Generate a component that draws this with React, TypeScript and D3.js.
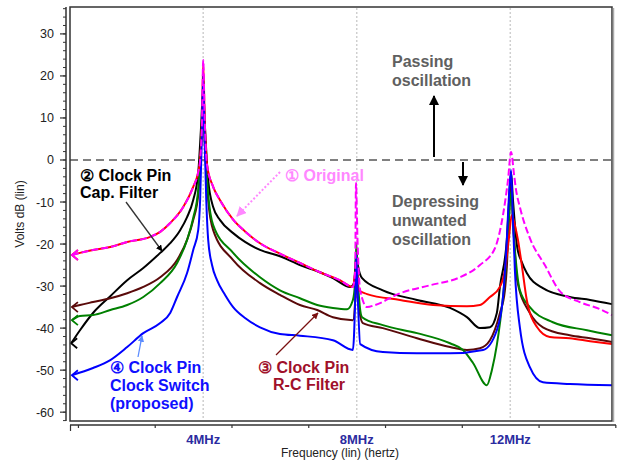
import React from "react";
import * as d3 from "d3";

type Pt = [number, number];

// frequency in MHz, level in dB
const original: Pt[] = [
  [0.58, -22.6], [0.79, -22.1], [1.13, -21.4], [1.58, -20.7], [2.02, -19.5], [2.62, -18.3],
  [2.88, -17.1], [3.14, -15.0], [3.48, -11.2], [3.74, -6.4], [3.87, -2.9], [3.92, 0], [3.97, 9.5],
  [4.0, 23.8], [4.04, 9.5], [4.1, -1.2], [4.26, -6.4], [4.44, -9.6], [4.78, -14.2], [5.09, -17],
  [5.48, -19.8], [6.0, -22.3], [6.52, -24.5], [7.04, -26.7], [7.56, -28.6], [7.9, -30.2],
  [7.96, -26.2], [7.98, -5.5], [8.02, -19], [8.09, -31], [8.27, -35], [8.48, -34.5], [9.13, -31.7],
  [9.91, -29.8], [10.69, -27.9], [11.21, -25], [11.6, -21], [11.81, -13.1], [11.94, -4.8],
  [12.02, 1.9], [12.1, -3.6], [12.15, -7.1], [12.25, -11.2], [12.51, -18.6], [12.9, -25],
  [13.29, -31.2], [13.81, -33.8], [14.34, -35.5], [14.65, -36.9],
];

const rcFilter: Pt[] = [
  [0.58, -22.6], [0.79, -22.1], [1.13, -21.4], [1.58, -20.7], [2.02, -19.5], [2.62, -18.3],
  [2.88, -17.1], [3.14, -15.0], [3.48, -11.2], [3.74, -6.4], [3.87, -2.9], [3.92, 0], [3.97, 9.5],
  [4.0, 23], [4.04, 9.5], [4.1, -1.2], [4.26, -6.4], [4.44, -9.6], [4.78, -14.2], [5.09, -17],
  [5.48, -19.8], [6.0, -22.3], [6.52, -24.5], [7.04, -26.7], [7.56, -28.6], [7.9, -30.2],
  [7.96, -27], [8.0, -25.5], [8.05, -31], [8.27, -31.9], [9.13, -33.3], [9.99, -34.5],
  [10.87, -34.8], [11.21, -34.5], [11.47, -32.6], [11.73, -30.2], [11.86, -26.2], [11.96, -19],
  [12.04, -13.1], [12.12, -15.5], [12.2, -19], [12.3, -25], [12.43, -33.3], [12.7, -39.8],
  [13.03, -42.1], [13.55, -42.4], [14.08, -43.1], [14.65, -43.8],
];

const capFilter: Pt[] = [
  [0.56, -43.6], [0.79, -40.5], [1.13, -36.4], [1.58, -32.4], [2.02, -28.6], [2.44, -25.7],
  [2.88, -22.1], [3.14, -19.8], [3.4, -16.7], [3.58, -13.6], [3.74, -9.5], [3.87, -3.1],
  [3.94, 7.1], [4.0, 16.7], [4.05, 7.1], [4.13, -4.8], [4.26, -11.2], [4.44, -14.3], [4.78, -17.4],
  [5.09, -19.5], [5.48, -21.4], [6.0, -22.9], [6.52, -25], [7.04, -26.7], [7.38, -28.1],
  [7.83, -30.2], [7.93, -29.3], [7.99, -22.1], [8.03, -25], [8.14, -28.1], [8.68, -31],
  [9.57, -33.3], [10.43, -35.2], [10.87, -37.4], [11.21, -40], [11.47, -39.8], [11.65, -36.4],
  [11.73, -30.2], [11.91, -19], [11.96, -11.2], [12.02, -2.9], [12.07, -9.5], [12.18, -20.7],
  [12.3, -24.3], [12.43, -26.9], [12.85, -30.5], [13.55, -32.6], [14.08, -33.3], [14.65, -34.3],
];

const rcBrown: Pt[] = [
  [0.58, -35], [0.79, -34.5], [1.13, -33.8], [1.58, -32.9], [2.02, -31.7], [2.44, -30.2],
  [2.88, -27.9], [3.32, -23.8], [3.58, -19], [3.74, -14.3], [3.87, -8.3], [3.94, 2.4], [4.0, 13.1],
  [4.05, 2.4], [4.13, -9.5], [4.26, -16.7], [4.78, -23.8], [5.48, -29.3], [6.0, -32.1],
  [6.52, -34.5], [6.97, -35.7], [7.38, -37.4], [7.9, -38.1], [7.96, -33.3], [7.99, -25],
  [8.03, -33.3], [8.16, -38.8], [8.68, -40], [9.57, -42.4], [10.43, -44.5], [10.87, -45.2],
  [11.21, -44.8], [11.47, -42.9], [11.73, -36.4], [11.86, -31], [11.91, -25.5], [11.96, -14.3],
  [12.02, -6], [12.07, -14.3], [12.18, -28.6], [12.51, -36.4], [12.85, -39.8], [13.55, -41.7],
  [14.08, -42.4], [14.65, -43.3],
];

const greenPin: Pt[] = [
  [0.58, -38.1], [0.79, -37.1], [1.13, -36.9], [1.58, -35.7], [2.02, -34.5], [2.44, -32.6],
  [2.88, -29.3], [3.32, -24.5], [3.58, -19], [3.74, -13.8], [3.87, -7.1], [3.94, 2.4], [4.0, 13.1],
  [4.05, 2.4], [4.13, -8.3], [4.26, -15.5], [4.78, -22.1], [5.48, -27.9], [6.0, -31],
  [6.52, -32.9], [6.97, -34.5], [7.38, -35.2], [7.75, -35.5], [7.9, -33.3], [7.96, -28.6],
  [7.99, -19.8], [8.03, -28.6], [8.14, -37.4], [8.68, -39.3], [9.57, -41.2], [10.43, -43.6],
  [10.77, -45.2], [11.03, -48.3], [11.39, -53.6], [11.52, -50], [11.65, -44], [11.81, -32.6],
  [11.94, -19], [12.02, -7.6], [12.1, -19], [12.25, -31], [12.51, -35], [13.11, -38.6],
  [14.0, -40.5], [14.65, -41.7],
];

const clockSwitch: Pt[] = [
  [0.58, -51.2], [1.13, -49.5], [1.58, -47.6], [2.02, -44.5], [2.44, -41.2], [2.88, -38.8],
  [3.14, -36.4], [3.32, -32.6], [3.58, -26.9], [3.74, -21.4], [3.87, -16.7], [3.92, -9.5],
  [3.97, 7.1], [4.0, 20.2], [4.03, 7.1], [4.08, -9.5], [4.13, -19], [4.23, -25], [4.36, -28.6],
  [4.57, -32.1], [4.78, -35], [5.09, -37.6], [5.48, -39.8], [6.0, -41.4], [6.52, -41.8],
  [7.38, -42.9], [7.9, -45.2], [7.96, -33.3], [7.99, -22.6], [8.03, -33.3], [8.09, -43.8],
  [8.68, -45.7], [9.57, -46], [10.43, -46], [11.29, -45.2], [11.65, -40.5], [11.81, -32.6],
  [11.91, -19], [11.96, -9.5], [12.02, -2.4], [12.07, -14.3], [12.12, -26.2], [12.25, -39.8],
  [12.51, -49.3], [12.85, -52.9], [13.55, -53.3], [14.65, -53.6],
];

const yMajor = [30, 20, 10, 0, -10, -20, -30, -40, -50, -60];
const yMinor = d3.range(-62, 37, 2);
const xTicks = [0.75, 2.75, 4.75, 6.75, 8.75, 10.75, 12.75, 14.75];
const xLabels: [number, string][] = [[4, "4MHz"], [8, "8MHz"], [12, "12MHz"]];

const FONT = "'Liberation Sans', Arial, sans-serif";

export default function App() {
  const x = d3.scaleLinear().domain([0.53, 14.65]).range([70, 612]);
  const y = d3.scaleLinear().domain([-62.1, 36.4]).range([421, 7]);
  const line = d3.line<Pt>().x((d) => x(d[0])).y((d) => y(d[1])).curve(d3.curveMonotoneX);

  const series: { data: Pt[]; color: string; dash?: string; w: number }[] = [
    { data: capFilter, color: "#000000", w: 2 },
    { data: rcBrown, color: "#5a0a0a", w: 2 },
    { data: greenPin, color: "#008000", w: 2 },
    { data: rcFilter, color: "#ff0000", w: 2 },
    { data: clockSwitch, color: "#0000ff", w: 2 },
    { data: original, color: "#ff00ff", w: 2, dash: "7,3" },
  ];

  const chevron = (p: Pt) => {
    const px = x(p[0]), py = y(p[1]);
    return `M${px + 6},${py - 5}L${px},${py}L${px + 6},${py + 5}`;
  };

  const bold = { fontFamily: FONT, fontWeight: 700, fontSize: 16 } as const;

  return (
    <svg width={618} height={463} style={{ position: "absolute", left: 0, top: 0, background: "#fff" }}>
      <defs>
        {[["ak", "#000"], ["ar", "#7a1010"], ["ab", "#5b8cff"], ["ap", "#ff88ff"]].map(([id, c]) => (
          <marker key={id} id={id} viewBox="0 0 10 10" refX="9" refY="5" markerWidth="5" markerHeight="5" orient="auto">
            <path d="M0,0L10,5L0,10z" fill={c} />
          </marker>
        ))}
      </defs>

      {/* y axis */}
      <line x1={66} x2={66} y1={y(-62.1)} y2={y(36.4)} stroke="#333" strokeWidth={1.5} />
      {yMinor.map((v) => (
        <line key={"m" + v} x1={63} x2={66} y1={y(v)} y2={y(v)} stroke="#333" />
      ))}
      {yMajor.map((v) => (
        <g key={v}>
          <line x1={60} x2={66} y1={y(v)} y2={y(v)} stroke="#333" strokeWidth={1.2} />
          <text x={54} y={y(v) + 4.5} textAnchor="end" fontFamily={FONT} fontSize={12.5} fill="#222">
            {v}
          </text>
        </g>
      ))}
      <text transform={`translate(24,214) rotate(-90)`} textAnchor="middle" fontFamily={FONT} fontSize={12} fill="#222">
        Volts dB (lin)
      </text>

      {/* x axis */}
      <line x1={70} x2={616} y1={425} y2={425} stroke="#333" strokeWidth={1.5} />
      <line x1={70.5} x2={70.5} y1={425} y2={431} stroke="#333" strokeWidth={1.2} />
      {xTicks.map((v) => (
        <line key={v} x1={x(v)} x2={x(v)} y1={425} y2={428} stroke="#333" strokeWidth={1.2} />
      ))}
      {xLabels.map(([v, t]) => (
        <text key={t} x={x(v)} y={444} textAnchor="middle" fontFamily={FONT} fontWeight={700} fontSize={13} fill="#2b2ba0">
          {t}
        </text>
      ))}
      <text x={340} y={457} textAnchor="middle" fontFamily={FONT} fontSize={12} fill="#222">
        Frequency (lin) (hertz)
      </text>

      {/* grid */}
      {xLabels.map(([v]) => (
        <line key={"g" + v} x1={x(v)} x2={x(v)} y1={8} y2={420} stroke="#cfcfcf" strokeWidth={1.5} strokeDasharray="2,2" />
      ))}
      <line x1={70} x2={612} y1={y(0)} y2={y(0)} stroke="#808080" strokeWidth={2} strokeDasharray="8,5" />

      {/* curves */}
      {series.map((s, i) => (
        <g key={i}>
          <path d={line(s.data) ?? ""} fill="none" stroke={s.color} strokeWidth={s.w} strokeDasharray={s.dash} strokeLinejoin="round" />
          <path d={chevron(s.data[0])} fill="none" stroke={s.color} strokeWidth={1.8} />
        </g>
      ))}

      {/* frame */}
      <rect x={70} y={7} width={542} height={414} fill="none" stroke="#333" strokeWidth={1.5} />
      <line x1={613.5} x2={613.5} y1={8} y2={422} stroke="#aaa" strokeWidth={1.5} />

      {/* annotations */}
      <g {...bold} fill="#606060">
        <text x={392} y={67}>Passing</text>
        <text x={392} y={86}>oscillation</text>
        <text x={392} y={207}>Depressing</text>
        <text x={392} y={226}>unwanted</text>
        <text x={392} y={245}>oscillation</text>
      </g>
      <line x1={434} x2={434} y1={157} y2={96} stroke="#000" strokeWidth={2} markerEnd="url(#ak)" />
      <line x1={463} x2={463} y1={162} y2={185} stroke="#000" strokeWidth={2} markerEnd="url(#ak)" />

      <text x={285} y={181} {...bold} fill="#ff88ff">① Original</text>
      <line x1={280} x2={237} y1={172} y2={216} stroke="#ff88ff" strokeWidth={2} strokeDasharray="2,2" markerEnd="url(#ap)" />

      <text x={80} y={181} {...bold} fill="#000">② Clock Pin</text>
      <text x={80} y={198} {...bold} fill="#000">Cap. Filter</text>
      <line x1={126} x2={162} y1={202} y2={251} stroke="#333" strokeWidth={1.3} markerEnd="url(#ak)" />

      <text x={258} y={373} {...bold} fill="#a0102a">③ Clock Pin</text>
      <text x={273} y={390} {...bold} fill="#a0102a">R-C Filter</text>
      <line x1={276} x2={318} y1={355} y2={313} stroke="#7a1010" strokeWidth={1.3} markerEnd="url(#ar)" />

      <text x={110} y={373} {...bold} fill="#1010ff">④ Clock Pin</text>
      <text x={110} y={391} {...bold} fill="#1010ff">Clock Switch</text>
      <text x={110} y={409} {...bold} fill="#1010ff">(proposed)</text>
      <line x1={138} x2={142} y1={357} y2={336} stroke="#5b8cff" strokeWidth={1.3} markerEnd="url(#ab)" />
    </svg>
  );
}
